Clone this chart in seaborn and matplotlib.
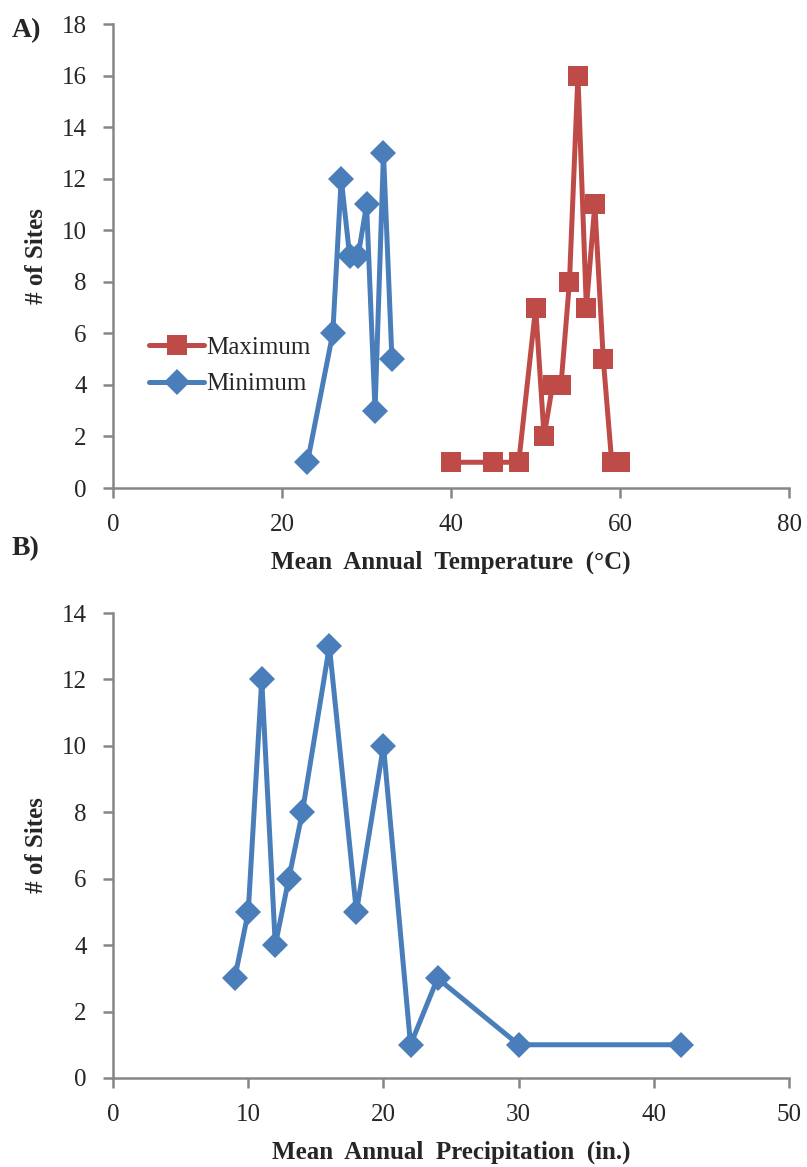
import matplotlib
matplotlib.use("Agg")
import matplotlib.pyplot as plt
import seaborn as sns
import pandas as pd

sns.set_style("white")
plt.rcParams['font.family'] = ['Liberation Serif', 'DejaVu Serif']

# panel A: mean annual temperature
max_temp = [40, 45, 48, 50, 51, 52, 53, 54, 55, 56, 57, 58, 59, 60]
max_sites = [1, 1, 1, 7, 2, 4, 4, 8, 16, 7, 11, 5, 1, 1]
min_temp = [23, 26, 27, 28, 29, 30, 31, 32, 33]
min_sites = [1, 6, 12, 9, 9, 11, 3, 13, 5]

# panel B: mean annual precipitation
precip = [9, 10, 11, 12, 13, 14, 16, 18, 20, 22, 24, 30, 42]
precip_sites = [3, 5, 12, 4, 6, 8, 13, 5, 10, 1, 3, 1, 1]

red = '#be4b48'
blue = '#4a7ebb'
grey = '#868686'

fig = plt.figure(figsize=(8.07, 11.67), dpi=100)
ax1 = fig.add_axes([0.140, 0.5818, 0.838, 0.3976])
ax2 = fig.add_axes([0.140, 0.0763, 0.838, 0.3984])

df_max = pd.DataFrame({'x': max_temp, 'y': max_sites})
df_min = pd.DataFrame({'x': min_temp, 'y': min_sites})
df_p = pd.DataFrame({'x': precip, 'y': precip_sites})

sns.lineplot(data=df_max, x='x', y='y', ax=ax1, color=red, lw=3.6, marker='s',
             markersize=14, markeredgewidth=0, label='Maximum', sort=False)
sns.lineplot(data=df_min, x='x', y='y', ax=ax1, color=blue, lw=3.6, marker='D',
             markersize=13, markeredgewidth=0, label='Minimum', sort=False)
sns.lineplot(data=df_p, x='x', y='y', ax=ax2, color=blue, lw=3.6, marker='D',
             markersize=13, markeredgewidth=0, sort=False)

ax1.set_xlim(0, 80)
ax1.set_ylim(0, 18)
ax1.set_xticks(range(0, 81, 20))
ax1.set_yticks(range(0, 19, 2))
ax2.set_xlim(0, 50)
ax2.set_ylim(0, 14)
ax2.set_xticks(range(0, 51, 10))
ax2.set_yticks(range(0, 15, 2))

for ax in (ax1, ax2):
    for s in ('top', 'right'):
        ax.spines[s].set_visible(False)
    for s in ('left', 'bottom'):
        ax.spines[s].set_color(grey)
        ax.spines[s].set_linewidth(1.8)
    ax.tick_params(axis='both', direction='out', length=7, width=1.8, color=grey,
                   labelsize=18, pad=12, left=True, bottom=True)
    ax.set_ylabel('# of Sites', fontsize=18, fontweight='bold', labelpad=10)
    for ln in ax.lines:
        ln.set_clip_on(False)

ax1.set_xlabel('Mean  Annual  Temperature  (°C)', fontsize=18, fontweight='bold', labelpad=10)
ax2.set_xlabel('Mean  Annual  Precipitation  (in.)', fontsize=18, fontweight='bold', labelpad=10)

leg = ax1.legend(loc='upper left', bbox_to_anchor=(0.02, 0.375), frameon=False,
                 fontsize=18, handlelength=2.2, handletextpad=0.1, labelspacing=0.55)

fig.text(0.014, 0.974, 'A)', fontsize=20, fontweight='bold', va='center')
fig.text(0.014, 0.530, 'B)', fontsize=20, fontweight='bold', va='center')

fig.savefig('out.png', dpi=100)
